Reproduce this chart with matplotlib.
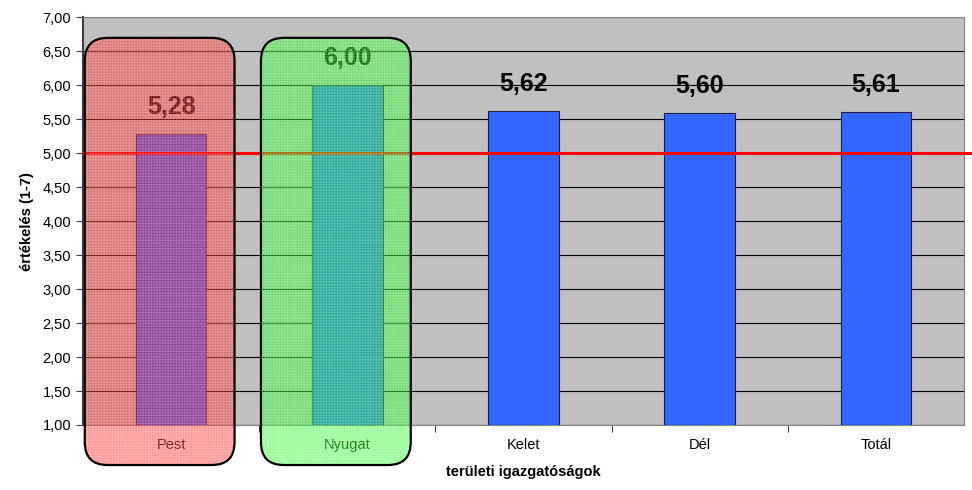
import matplotlib
matplotlib.use("Agg")
import matplotlib.pyplot as plt
from matplotlib.patches import FancyBboxPatch
import numpy as np

plt.rcParams['font.family'] = ['Liberation Sans', 'DejaVu Sans']
plt.rcParams['hatch.linewidth'] = 0.8

# adatok
kategoriak = ['Pest', 'Nyugat', 'Kelet', 'Dél', 'Totál']
ertekek = [5.28, 6.00, 5.62, 5.60, 5.61]
cimkek = ['5,28', '6,00', '5,62', '5,60', '5,61']
hatar = 5.0
yticks = np.arange(1.0, 7.01, 0.5)

fig = plt.figure(figsize=(9.72, 4.9), dpi=100)
ax = fig.add_axes([0.0854, 0.1327, 0.9064, 0.8316])
ax.set_facecolor('#c0c0c0')

x = np.arange(len(kategoriak))
ax.bar(x, [v - 1.0 for v in ertekek], bottom=1.0, width=0.4,
       color='#3366ff', edgecolor='#202040', linewidth=0.8, zorder=3)
for xi, v, c in zip(x, ertekek, cimkek):
    ax.text(xi, v + 0.22, c, ha='center', va='bottom', fontsize=18,
            fontweight='bold', color='black', zorder=4)

ax.set_xlim(-0.5, len(kategoriak) - 0.5)
ax.set_ylim(1.0, 7.0)
ax.set_yticks(yticks)
ax.yaxis.set_major_formatter(matplotlib.ticker.FuncFormatter(lambda v, p: ('%.2f' % v).replace('.', ',')))
ax.grid(axis='y', color='black', linewidth=0.8, zorder=1)
ax.set_axisbelow(True)

# kategória feliratok, tickek a kategóriák között
ax.set_xticks(x[:-1] + 0.5)
ax.set_xticklabels([])
ax.tick_params(axis='x', length=5, direction='out', color='#404040')
ax.tick_params(axis='y', length=5, direction='out', color='#404040', labelsize=10.5)
for xi, k in zip(x, kategoriak):
    ax.text(xi, -0.05, k, transform=ax.get_xaxis_transform(), ha='center',
            va='center', fontsize=10.5, color='black')
ax.text(0.5, -0.115, 'területi igazgatóságok', transform=ax.transAxes,
        ha='center', va='center', fontsize=10.5, fontweight='bold')
ax.set_ylabel('értékelés (1-7)', fontsize=10.5, fontweight='bold', labelpad=6)

for s in ['top', 'right', 'bottom']:
    ax.spines[s].set_color('#808080')
ax.spines['left'].set_color('#404040')
ax.spines['left'].set_linewidth(1.5)

# határvonal
ax.axhline(hatar, xmin=0, xmax=1.01, color='red', linewidth=2.2, zorder=5, clip_on=False)

# kiemelő keretek
asp = (0.9064 * 972 / 5) / (0.8316 * 490 / 6)
for xi, szin in [(0, '#ff0000'), (1, '#00ff00')]:
    x0, x1 = xi - 0.49, xi + 0.36
    y0, y1 = 0.41, 6.70
    kw = dict(boxstyle='round,pad=0,rounding_size=0.13', mutation_aspect=asp,
              clip_on=False, transform=ax.transData)
    ax.add_patch(FancyBboxPatch((x0, y0), x1 - x0, y1 - y0, facecolor=szin,
                                alpha=0.42, edgecolor='none', zorder=6, **kw))
    ax.add_patch(FancyBboxPatch((x0, y0), x1 - x0, y1 - y0, facecolor='none',
                                hatch='++++++', edgecolor=(1, 1, 1, 0.25), linewidth=0,
                                zorder=7, **kw))
    ax.add_patch(FancyBboxPatch((x0, y0), x1 - x0, y1 - y0, facecolor='none',
                                edgecolor='black', linewidth=1.6, zorder=8, **kw))

fig.savefig('out.png', dpi=100)
